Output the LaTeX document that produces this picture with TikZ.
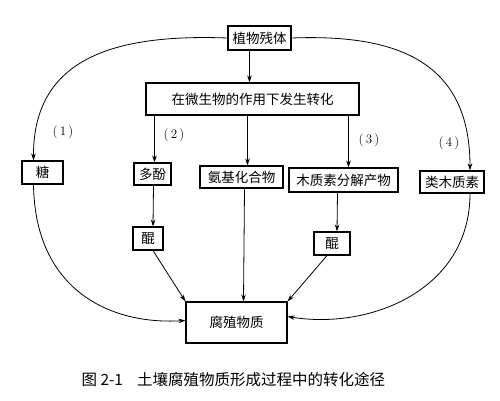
\documentclass[tikz,border=0pt]{standalone}
\usepackage{fontspec}
\newfontfamily\cjk{Noto Sans CJK SC}
\usetikzlibrary{arrows.meta,calc}
\begin{document}
\begin{tikzpicture}[x=1pt,y=-1pt,
  box/.style={draw,line width=1.1pt,inner sep=0pt,font=\cjk\fontsize{13.5}{14}\selectfont},
  conn/.style={line width=0.8pt,-{Stealth[length=7pt,width=4.5pt]}},
  lab/.style={font=\fontsize{13}{14}\selectfont}]
\useasboundingbox (0,0) rectangle (500,400);
\node[box,minimum width=63pt,minimum height=24pt] (zw) at (259.5,38) {植物残体};
\node[box,minimum width=213pt,minimum height=32pt] (mw) at (252.5,99) {在微生物的作用下发生转化};
\node[box,minimum width=41pt,minimum height=23pt] (tang) at (42.5,172.5) {糖};
\node[box,minimum width=37pt,minimum height=22pt] (df) at (152.5,174) {多酚};
\node[box,minimum width=83pt,minimum height=22pt] (aj) at (241.5,177) {氨基化合物};
\node[box,minimum width=109pt,minimum height=24pt] (mz) at (343.5,180) {木质素分解产物};
\node[box,minimum width=64pt,minimum height=22pt] (lm) at (452,182) {类木质素};
\node[box,minimum width=30pt,minimum height=23pt] (k1) at (148,238.5) {醌};
\node[box,minimum width=36pt,minimum height=23pt] (k2) at (332,243.5) {醌};
\node[box,minimum width=101pt,minimum height=41pt] (fz) at (236.5,322.5) {腐殖物质};
% top arcs
\draw[conn] (zw.west) .. controls (120,34) and (33,55) .. ([xshift=-9pt]tang.north);
\draw[conn] (zw.east) .. controls (395,34) and (470,60) .. ([xshift=18pt]lm.north);
% vertical
\draw[conn] ([xshift=-10pt]zw.south) -- ([xshift=-3pt]mw.north);
\draw[conn] ([xshift=2pt]df.north |- mw.south) -- ([xshift=2pt]df.north);
\draw[conn] ([xshift=6pt]aj.north |- mw.south) -- ([xshift=6pt]aj.north);
\draw[conn] ([xshift=5pt]mz.north |- mw.south) -- ([xshift=5pt]mz.north);
\draw[conn] ([xshift=1pt]df.south) -- ([xshift=5pt]k1.north);
\draw[conn] ([xshift=-6pt]mz.south) -- ([xshift=5pt]k2.north);
\draw[conn] ([xshift=5pt]k1.south) -- (fz.north west);
\draw[conn] ([xshift=3pt]aj.south) -- ([xshift=7pt]fz.north);
\draw[conn] ([xshift=-5pt]k2.south) -- (fz.north east);
% bottom arcs
\draw[conn] ([xshift=-9pt]tang.south) .. controls (35,290) and (110,325) .. ([yshift=2pt]fz.west);
\draw[conn] ([xshift=18pt]lm.south) .. controls (470,290) and (370,330) .. ([yshift=6pt]fz.east);
% labels
\node[lab] (l1) at (63,132) {(\,1\,)};
\node[lab] (l2) at (174,135) {(\,2\,)};
\node[lab] (l3) at (369,140) {(\,3\,)};
\node[lab] (l4) at (449,143) {(\,4\,)};
% caption
\node[font=\cjk\fontsize{15.5}{16}\selectfont,anchor=west] (cap) at (78,380) {图 2-1\hspace{14pt}土壤腐殖物质形成过程中的转化途径};
\end{tikzpicture}
\end{document}
